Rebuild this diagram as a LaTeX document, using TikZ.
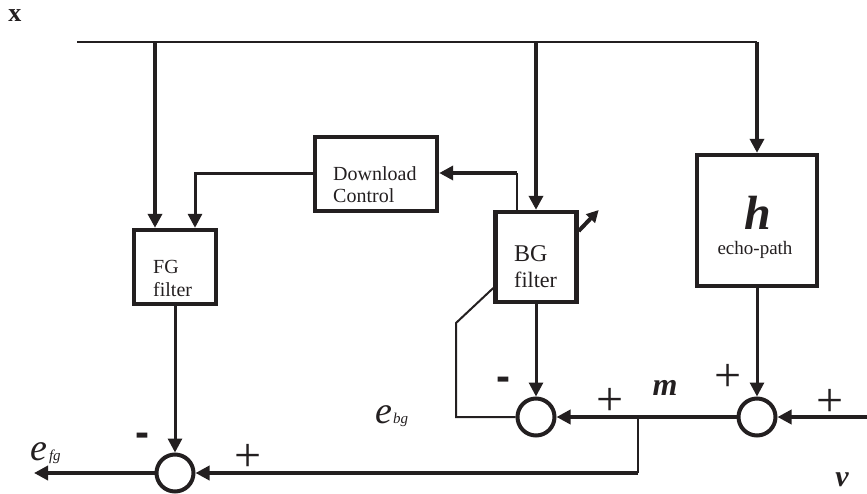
\documentclass[tikz,border=0pt]{standalone}
\usepackage{fontspec}
\setmainfont{Liberation Serif}
\newfontfamily\arialfont{Liberation Sans}
\usetikzlibrary{arrows.meta,calc}
\definecolor{ink}{RGB}{35,31,32}
\tikzset{
  box/.style={draw=ink, line width=4.4pt, fill=white, inner sep=0pt},
  sumnode/.style={draw=ink, circle, line width=4pt, minimum size=37pt, inner sep=0pt},
  wire/.style={draw=ink, line width=2pt},
  midwire/.style={draw=ink, line width=3pt},
  thickwire/.style={draw=ink, line width=4pt},
  tip/.style={-{Triangle[length=14pt,width=14pt]}},
  lbl/.style={text=ink, inner sep=0pt},
  plussign/.style={lbl, font=\fontsize{48}{48}\selectfont},
  minussign/.style={lbl, font=\arialfont\bfseries\fontsize{42}{42}\selectfont},
}
\begin{document}
\begin{tikzpicture}[x=1pt,y=-1pt]
\useasboundingbox (0,0) rectangle (867,494);

% boxes
\node[box, minimum width=82pt, minimum height=74pt] (fg) at (175,267) {};
\node[box, minimum width=122pt, minimum height=74pt] (dl) at (376,174) {};
\node[box, minimum width=81pt, minimum height=90pt] (bg) at (536,257) {};
\node[box, minimum width=120pt, minimum height=131pt] (h) at (757,220.5) {};

% box texts
\node[lbl, anchor=west, font=\fontsize{20}{20}\selectfont] (fgt1) at (153,267) {FG};
\node[lbl, anchor=west, font=\fontsize{20}{20}\selectfont] (fgt2) at (153,290) {filter};
\node[lbl, anchor=west, font=\fontsize{20}{20}\selectfont] (dlt1) at (333,174) {Download};
\node[lbl, anchor=west, font=\fontsize{20}{20}\selectfont] (dlt2) at (333,196) {Control};
\node[lbl, anchor=west, font=\fontsize{24}{24}\selectfont] (bgt1) at (514,254) {BG};
\node[lbl, anchor=west, font=\fontsize{22}{22}\selectfont] (bgt2) at (514,280) {filter};
\node[lbl, font=\bfseries\itshape\fontsize{48}{48}\selectfont] (ht) at (758,213) {h};
\node[lbl, font=\fontsize{19}{19}\selectfont] (hp) at (755,250) {echo-path};

% summing junctions
\node[sumnode] (sfg) at (175,473) {};
\node[sumnode] (sbg) at (536,417) {};
\node[sumnode] (sh) at (757,417) {};

% coordinates
\coordinate (xs) at (77,42);
\coordinate (j1) at (155,42);
\coordinate (j2) at (536,42);
\coordinate (j3) at (757,42);
\coordinate (vin) at (867,417);
\coordinate (mj) at (638,417);
\coordinate (mj2) at (638,473);
\coordinate (efgout) at (34,473);
\coordinate (bgtap) at (517,173);
\coordinate (fb1) at (456,417);
\coordinate (fb2) at (456,323);

% input bus
\draw[wire] (xs) -- (j3);
\draw[thickwire, tip] (j1) -- (j1 |- fg.north);
\draw[thickwire, tip] (j2) -- (bg.north);
\draw[thickwire, tip] (j3) -- (h.north);

% download control
\draw[midwire, tip] (dl.west) -| ($(fg.north)+(20,0)$);
\draw[wire] (bgtap |- bg.north) -- (bgtap);
\draw[thickwire, tip] (bgtap) -- (bgtap -| dl.east);

% adaptive arrow
\draw[thickwire, -{Triangle[length=12pt,width=12pt]}] ($(bg.east)+(0,-26)$) -- ++(20,-21);

% filter outputs
\draw[midwire, tip] (fg.south) -- (sfg.north);
\draw[midwire, tip] (bg.south) -- (sbg.north);
\draw[midwire, tip] (h.south) -- (sh.north);

% signal paths
\draw[thickwire, tip] (vin) -- (sh.east);
\draw[thickwire, tip] (sh.west) -- (sbg.east);
\draw[wire] (mj) -- (mj2);
\draw[thickwire, tip] (mj2) -- (sfg.east);
\draw[thickwire, tip] (sfg.west) -- (efgout);

% feedback error to BG filter
\draw[wire] (sbg.west) -- (fb1) -- (fb2) -- ($(bg.west)+(0,31)$);

% labels
\node[lbl, font=\bfseries\fontsize{26}{26}\selectfont] (xl) at (15,16) {x};
\node[lbl, font=\bfseries\itshape\fontsize{32}{32}\selectfont] (ml) at (665,388) {m};
\node[lbl, font=\bfseries\itshape\fontsize{30}{30}\selectfont] (vl) at (842,480) {v};
\node[lbl, anchor=base west] (ebg) at (375,423) {\fontsize{38}{38}\selectfont\itshape e\hspace{1pt}\fontsize{15}{15}\selectfont bg};
\node[lbl, anchor=base west] (efg) at (30,460) {\fontsize{38}{38}\selectfont\itshape e\hspace{2pt}\fontsize{15}{15}\selectfont fg};

\node[minussign] (mbg) at (503,384) {-};
\node[minussign] (mfg) at (142,440) {-};
\node[plussign] (p1) at (248,458) {+};
\node[plussign] (p2) at (610,402) {+};
\node[plussign] (p3) at (728,378) {+};
\node[plussign] (p4) at (830,403) {+};
\end{tikzpicture}
\end{document}
